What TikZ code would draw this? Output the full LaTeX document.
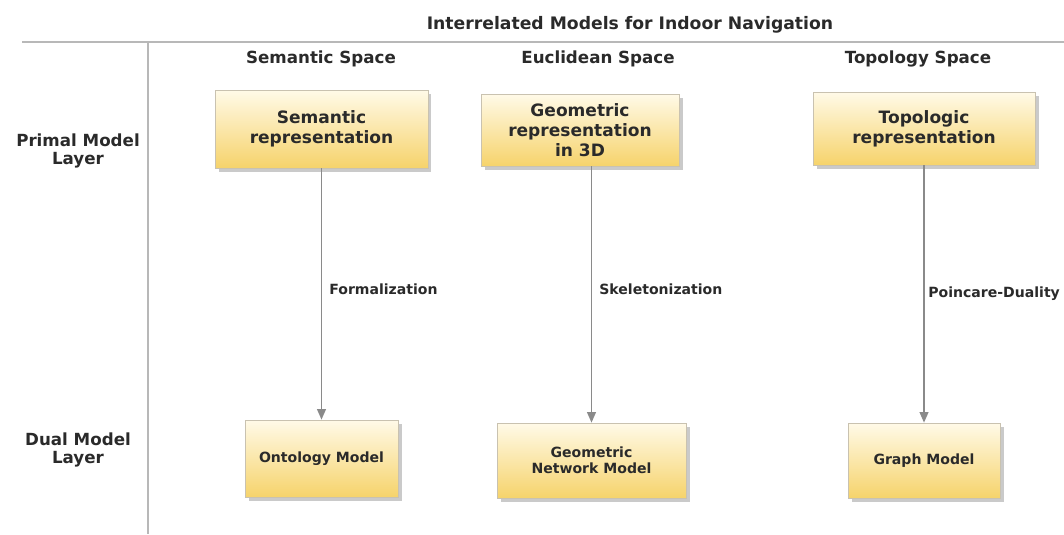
\documentclass[tikz,border=0pt]{standalone}
\usepackage{fontspec}
\setmainfont{DejaVu Sans}
\usetikzlibrary{positioning,shadows,arrows.meta}

\definecolor{boxtop}{HTML}{FFFAE8}
\definecolor{boxbot}{HTML}{F6D36B}
\definecolor{boxline}{HTML}{C9C2B0}
\definecolor{rulegray}{HTML}{B8B8B8}
\definecolor{flowgray}{HTML}{8A8A8A}
\definecolor{txt}{HTML}{2A2A2A}

\tikzset{
  modelbox/.style={draw=boxline, top color=boxtop, bottom color=boxbot,
    align=center, font=\bfseries\fontsize{9.7}{11.5}\selectfont, text=txt,
    drop shadow={shadow xshift=2pt, shadow yshift=-2pt, opacity=0.35, fill=black!60}},
  dualbox/.style={modelbox, font=\bfseries\fontsize{8}{9}\selectfont},
  head/.style={font=\bfseries\fontsize{9.5}{10.5}\selectfont, text=txt},
  layer/.style={head, align=center},
  lbl/.style={font=\bfseries\fontsize{8}{9}\selectfont, text=txt, right, inner sep=1pt},
  flow/.style={draw=flowgray, line width=0.9pt, -{Triangle[length=6pt,width=5pt]}},
}

\begin{document}
\begin{tikzpicture}[x=0.02cm, y=-0.02cm]

\useasboundingbox (0,0) rectangle (1064,534);

% ============================
% FRAME
% ============================

\draw[rulegray, line width=1pt] (22,42) -- (1064,42);
\draw[rulegray, line width=1pt] (148,42) -- (148,534);

\node[head, font=\bfseries\fontsize{9.8}{11}\selectfont] (title) at (630,25) {Interrelated Models for Indoor Navigation};

% ============================
% COLUMN AND ROW HEADERS
% ============================

\node[head] (semsp) at (321,59) {Semantic Space};
\node[head] (eucsp) at (598,59) {Euclidean Space};
\node[head] (topsp) at (918,59) {Topology Space};

\node[layer] (primal) at (78,151) {Primal Model\\Layer};
\node[layer] (dual) at (78,450) {Dual Model\\Layer};

% ============================
% PRIMAL MODELS
% ============================

\node[modelbox, minimum width=4.26cm, minimum height=1.56cm] (sem) at (321.5,129) {Semantic\\representation};
\node[modelbox, minimum width=3.96cm, minimum height=1.44cm] (geo) at (580,130) {Geometric\\representation\\in 3D};
\node[modelbox, minimum width=4.44cm, minimum height=1.46cm] (topo) at (924,128.5) {Topologic\\representation};

% ============================
% DUAL MODELS
% ============================

\node[dualbox, minimum width=3.06cm, minimum height=1.54cm] (onto) at (321.5,458.5) {Ontology Model};
\node[dualbox, minimum width=3.78cm, minimum height=1.5cm] (geonet) at (591.5,460.5) {Geometric\\Network Model};
\node[dualbox, minimum width=3.04cm, minimum height=1.5cm] (graph) at (924,460.5) {Graph Model};

% ============================
% TRANSFORMATIONS
% ============================

\draw[flow] (sem) -- node[lbl, pos=0.48, xshift=3pt] (formal) {Formalization} (onto);
\draw[flow] (geonet.north |- geo.south) -- node[lbl, pos=0.48, xshift=3pt] (skel) {Skeletonization} (geonet);
\draw[flow] (topo) -- node[lbl, pos=0.5, xshift=1pt] (poinc) {Poincare-Duality} (graph);

\end{tikzpicture}
\end{document}
